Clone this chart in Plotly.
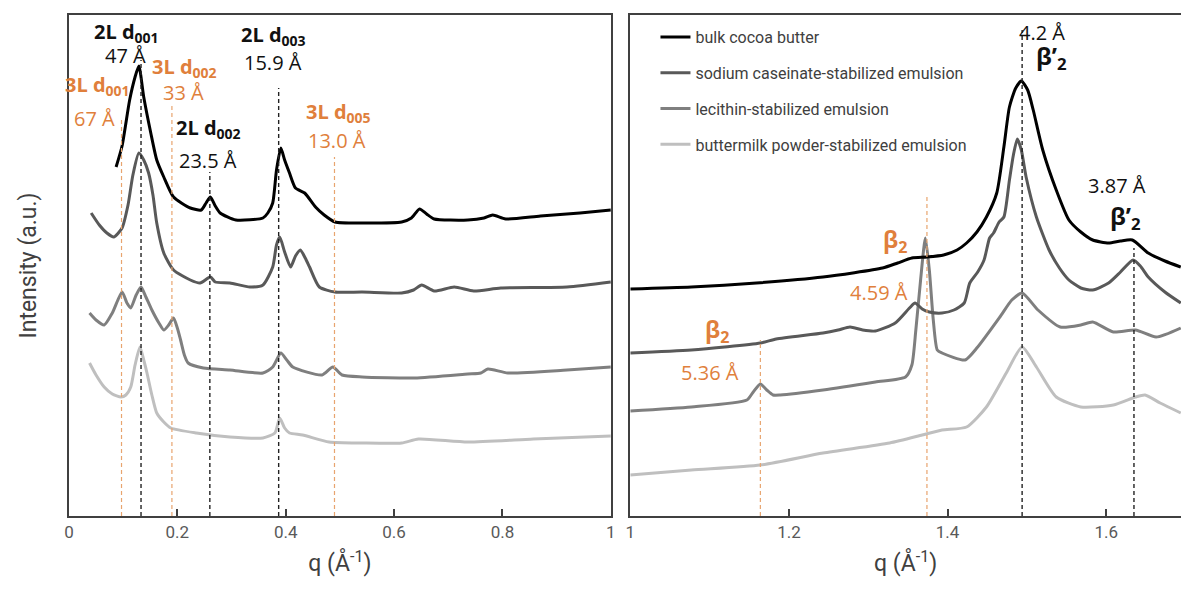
import plotly.graph_objects as go

# ---------------- data (q in 1/Å, intensity in arbitrary units, offset curves) -------------
series_names = ["bulk cocoa butter",
                "sodium caseinate-stabilized emulsion",
                "lecithin-stabilized emulsion",
                "buttermilk powder-stabilized emulsion"]
series_colors = ["#000000", "#595959", "#7f7f7f", "#bfbfbf"]

# small-angle region (left panel)
bulk_q_saxs = [0.087, 0.098, 0.112, 0.122, 0.129, 0.138, 0.151, 0.162, 0.175, 0.193, 0.224, 0.244,
               0.253, 0.261, 0.270, 0.279, 0.308, 0.358, 0.367, 0.376, 0.383, 0.391, 0.398, 0.407,
               0.418, 0.435, 0.455, 0.471, 0.491, 0.553, 0.614, 0.632, 0.647, 0.660, 0.674, 0.736,
               0.766, 0.782, 0.806, 0.870, 0.943, 1.000]
bulk_i_saxs = [349, 370, 416, 439, 450, 419, 383, 356, 339, 319, 308, 306,
               313, 319, 310, 303, 296, 298, 303, 313, 346, 368, 356, 343,
               328, 323, 309, 301, 294, 293, 294, 298, 307, 302, 297, 296,
               298, 301, 297, 300, 303, 306]

cas_q_saxs = [0.041, 0.056, 0.070, 0.083, 0.098, 0.109, 0.118, 0.129, 0.138, 0.147, 0.155, 0.162,
              0.175, 0.193, 0.224, 0.242, 0.261, 0.270, 0.297, 0.334, 0.358, 0.376, 0.383, 0.389,
              0.398, 0.409, 0.418, 0.427, 0.436, 0.444, 0.462, 0.491, 0.541, 0.614, 0.636, 0.651,
              0.674, 0.711, 0.747, 0.797, 0.919, 1.000]
cas_i_saxs = [303, 291, 283, 279, 288, 311, 341, 363, 356, 343, 321, 293,
              263, 246, 236, 233, 239, 234, 233, 229, 231, 249, 271, 279,
              264, 249, 260, 266, 258, 249, 229, 224, 224, 223, 226, 231,
              225, 229, 225, 228, 229, 234]

lec_q_saxs = [0.038, 0.050, 0.065, 0.080, 0.098, 0.107, 0.114, 0.124, 0.133, 0.142, 0.153, 0.166,
              0.175, 0.184, 0.193, 0.200, 0.206, 0.213, 0.220, 0.248, 0.297, 0.358, 0.376, 0.391,
              0.402, 0.413, 0.467, 0.487, 0.504, 0.541, 0.638, 0.736, 0.760, 0.773, 0.810, 0.919,
              1.000]
lec_i_saxs = [203, 196, 191, 203, 224, 213, 208, 221, 229, 219, 206, 193,
              186, 191, 198, 188, 176, 161, 153, 148, 146, 143, 149, 163,
              156, 149, 141, 149, 141, 139, 138, 142, 143, 147, 143, 146,
              149]

bm_q_saxs = [0.038, 0.050, 0.065, 0.080, 0.096, 0.105, 0.114, 0.122, 0.131, 0.138, 0.144, 0.153,
             0.162, 0.175, 0.188, 0.235, 0.297, 0.358, 0.380, 0.389, 0.398, 0.407, 0.431, 0.480,
             0.541, 0.614, 0.645, 0.736, 0.857, 1.000]
bm_i_saxs = [153, 141, 129, 122, 119, 121, 129, 151, 169, 156, 143, 121,
             103, 94, 88, 83, 79, 78, 83, 98, 88, 83, 81, 74,
             73, 73, 77, 74, 77, 80]

# wide-angle region (right panel)
bulk_q_waxs = [1.000, 1.077, 1.159, 1.243, 1.318, 1.337, 1.355, 1.374, 1.395, 1.412, 1.424, 1.437,
               1.449, 1.462, 1.471, 1.478, 1.486, 1.493, 1.501, 1.508, 1.520, 1.537, 1.553, 1.568,
               1.583, 1.603, 1.618, 1.633, 1.653, 1.674, 1.694]
bulk_i_waxs = [227, 229, 233, 239, 248, 253, 258, 259, 261, 266, 273, 284,
               299, 323, 369, 409, 428, 435, 426, 406, 366, 326, 296, 284,
               276, 273, 275, 276, 263, 255, 249]

cas_q_waxs = [1.000, 1.077, 1.164, 1.184, 1.243, 1.262, 1.277, 1.293, 1.309, 1.334, 1.352, 1.359,
              1.368, 1.377, 1.393, 1.408, 1.421, 1.428, 1.438, 1.446, 1.453, 1.458, 1.465, 1.471,
              1.478, 1.483, 1.488, 1.493, 1.499, 1.512, 1.528, 1.541, 1.553, 1.568, 1.583, 1.603,
              1.618, 1.634, 1.643, 1.653, 1.674, 1.694]
cas_i_waxs = [163, 166, 173, 177, 183, 186, 189, 186, 185, 193, 208, 213,
              207, 204, 203, 206, 213, 233, 244, 256, 278, 283, 294, 299,
              336, 361, 377, 366, 339, 299, 266, 248, 236, 228, 226, 233,
              244, 256, 250, 239, 224, 213]

lec_q_waxs = [1.000, 1.077, 1.147, 1.155, 1.164, 1.172, 1.180, 1.189, 1.243, 1.309, 1.347, 1.355,
              1.360, 1.366, 1.372, 1.377, 1.382, 1.387, 1.393, 1.422, 1.438, 1.466, 1.481, 1.494,
              1.514, 1.542, 1.568, 1.583, 1.609, 1.637, 1.663, 1.694]
lec_i_waxs = [105, 109, 116, 124, 132, 126, 121, 121, 126, 134, 139, 151,
              186, 236, 278, 246, 196, 166, 163, 156, 169, 199, 216, 223,
              206, 189, 191, 194, 184, 186, 179, 188]

bm_q_waxs = [1.000, 1.077, 1.164, 1.243, 1.327, 1.368, 1.393, 1.424, 1.449, 1.474, 1.494, 1.512,
             1.537, 1.568, 1.609, 1.637, 1.649, 1.668, 1.694]
bm_i_waxs = [41, 46, 51, 63, 73, 81, 86, 89, 109, 143, 169, 149,
             119, 109, 111, 119, 121, 113, 103]

# reference peak positions (q) and the top of their marker lines (intensity units)
saxs_black_q = [0.133, 0.260, 0.387]
saxs_black_top = [456, 344, 428]
saxs_orange_q = [0.097, 0.190, 0.490]
saxs_orange_top = [396, 411, 359]
waxs_black_q = [1.494, 1.635]
waxs_black_top = [486, 268]
waxs_orange_q = [1.164, 1.374]
waxs_orange_top = [176, 319]

saxs_ticks = [0, 0.2, 0.4, 0.6, 0.8, 1]
saxs_ticktext = ["0", "0.2", "0.4", "0.6", "0.8", "1"]
waxs_ticks = [1, 1.2, 1.4, 1.6]
waxs_ticktext = ["1", "1.2", "1.4", "1.6"]

# annotation labels: (text, q, intensity, color, size, bold, anchor)
saxs_labels = [
    ("2L d<sub>001</sub>", 0.107, 484, "black", 20, True, "center"),
    ("47 Å", 0.104, 461, "black", 20, False, "center"),
    ("3L d<sub>001</sub>", 0.116, 431, "orange", 20, True, "right"),
    ("67 Å", 0.048, 398, "orange", 20, False, "center"),
    ("3L d<sub>002</sub>", 0.213, 449, "orange", 20, True, "center"),
    ("33 Å", 0.211, 424, "orange", 20, False, "center"),
    ("2L d<sub>002</sub>", 0.257, 388, "black", 20, True, "center"),
    ("23.5 Å", 0.257, 356, "black", 20, False, "center"),
    ("2L d<sub>003</sub>", 0.378, 481, "black", 20, True, "center"),
    ("15.9 Å", 0.376, 454, "black", 20, False, "center"),
    ("3L d<sub>005</sub>", 0.497, 404, "orange", 20, True, "center"),
    ("13.0 Å", 0.495, 376, "orange", 20, False, "center"),
]
waxs_labels = [
    ("4.2 Å", 1.519, 484, "black", 20, False, "center"),
    ("β’<sub>2</sub>", 1.531, 459, "black", 24, True, "center"),
    ("3.87 Å", 1.614, 331, "black", 20, False, "center"),
    ("β’<sub>2</sub>", 1.624, 299, "black", 24, True, "center"),
    ("β<sub>2</sub>", 1.334, 276, "orange", 23, True, "center"),
    ("4.59 Å", 1.314, 224, "orange", 20, False, "center"),
    ("β<sub>2</sub>", 1.109, 186, "orange", 23, True, "center"),
    ("5.36 Å", 1.100, 144, "orange", 20, False, "center"),
]

# ---------------- figure -------------------------------------------------------------------
W, H = 1186, 599
ORANGE = "#E07F3C"
ORANGE_LINE = "#E8A46E"
AXIS_COL = "#595959"
ANN_FONT = "Open Sans"

fig = go.Figure()

saxs = [(bulk_q_saxs, bulk_i_saxs), (cas_q_saxs, cas_i_saxs), (lec_q_saxs, lec_i_saxs), (bm_q_saxs, bm_i_saxs)]
waxs = [(bulk_q_waxs, bulk_i_waxs), (cas_q_waxs, cas_i_waxs), (lec_q_waxs, lec_i_waxs), (bm_q_waxs, bm_i_waxs)]

# draw back-to-front so the black curve is on top
for k in reversed(range(4)):
    q, i = saxs[k]
    fig.add_trace(go.Scatter(x=q, y=i, mode="lines", name=series_names[k], legendgroup=f"g{k}",
                             legendrank=k + 1,
                             line=dict(color=series_colors[k], width=3, shape="spline", smoothing=0.6),
                             xaxis="x", yaxis="y", showlegend=True, hoverinfo="skip"))
    q, i = waxs[k]
    fig.add_trace(go.Scatter(x=q, y=i, mode="lines", name=series_names[k], legendgroup=f"g{k}",
                             line=dict(color=series_colors[k], width=3, shape="spline", smoothing=0.6),
                             xaxis="x2", yaxis="y2", showlegend=False, hoverinfo="skip"))

def vline(xref, yref, q, top, color, width):
    fig.add_shape(type="line", xref=xref, yref=yref, x0=q, x1=q, y0=0, y1=top,
                  line=dict(color=color, width=width, dash="4px,3px"), layer="above")

for q, t in zip(saxs_black_q, saxs_black_top):
    vline("x", "y", q, t, "#222222", 1.4)
for q, t in zip(saxs_orange_q, saxs_orange_top):
    vline("x", "y", q, t, ORANGE_LINE, 1.2)
for q, t in zip(waxs_black_q, waxs_black_top):
    vline("x2", "y2", q, t, "#222222", 1.4)
for q, t in zip(waxs_orange_q, waxs_orange_top):
    vline("x2", "y2", q, t, ORANGE_LINE, 1.2)

def add_labels(labels, xref, yref):
    for text, q, inten, col, size, bold, anchor in labels:
        c = "#111111" if col == "black" else ORANGE
        t = f"<b>{text}</b>" if bold else text
        fig.add_annotation(x=q, y=inten, xref=xref, yref=yref, text=t, showarrow=False,
                           xanchor=anchor, yanchor="middle",
                           font=dict(family=ANN_FONT, size=size, color=c))

add_labels(saxs_labels, "x", "y")
add_labels(waxs_labels, "x2", "y2")

ydom = [83 / H, 584 / H]
tickfont = dict(family="Roboto", size=17, color=AXIS_COL)
titlefont = dict(family="Roboto", size=23, color="#404040")

fig.update_layout(
    width=W, height=H,
    margin=dict(l=0, r=0, t=0, b=0),
    paper_bgcolor="white", plot_bgcolor="white",
    showlegend=True,
    legend=dict(x=656 / W, y=1 - 20 / H, xanchor="left", yanchor="top",
                bgcolor="rgba(0,0,0,0)", tracegroupgap=12,
                font=dict(family="Roboto", size=16, color="#404040")),
    xaxis=dict(domain=[64.5 / W, 611 / W], range=[0, 1], tickvals=saxs_ticks, ticktext=saxs_ticktext,
               showline=True, linecolor="#404040", linewidth=1.5, mirror=True,
               ticks="inside", ticklen=7, tickcolor="#404040", tickwidth=1.5,
               showgrid=False, zeroline=False, tickfont=tickfont,
               title=dict(text="q (Å<sup>-1</sup>)", font=titlefont, standoff=14)),
    yaxis=dict(domain=ydom, range=[0, 501], showticklabels=False, ticks="",
               showline=True, linecolor="#404040", linewidth=1.5, mirror=True,
               showgrid=False, zeroline=False,
               title=dict(text="Intensity (a.u.)", font=titlefont, standoff=24)),
    xaxis2=dict(domain=[630.6 / W, 1.0], range=[1, 1.6943], tickvals=waxs_ticks, ticktext=waxs_ticktext,
                anchor="y2",
                showline=True, linecolor="#404040", linewidth=1.5, mirror=True,
                ticks="inside", ticklen=7, tickcolor="#404040", tickwidth=1.5,
                showgrid=False, zeroline=False, tickfont=tickfont,
                title=dict(text="q (Å<sup>-1</sup>)", font=titlefont, standoff=14)),
    yaxis2=dict(domain=ydom, range=[0, 501], anchor="x2", showticklabels=False, ticks="",
                showline=True, linecolor="#404040", linewidth=1.5, mirror=False,
                showgrid=False, zeroline=False),
)

fig.write_html("out.html", config={"displayModeBar": False},
               post_script="document.body.style.margin='0';document.body.style.overflow='hidden';")
